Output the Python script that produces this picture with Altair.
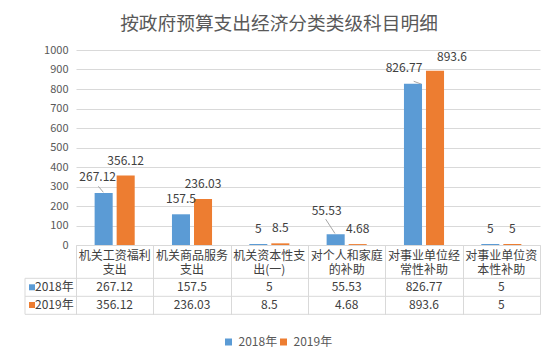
import altair as alt
import pandas as pd

# ---- data ----
categories = ["机关工资福利支出", "机关商品服务支出", "机关资本性支出(一)",
              "对个人和家庭的补助", "对事业单位经常性补助", "对事业单位资本性补助"]
series = ["2018年", "2019年"]
values_2018 = [267.12, 157.5, 5, 55.53, 826.77, 5]
values_2019 = [356.12, 236.03, 8.5, 4.68, 893.6, 5]
y_ticks = [0, 100, 200, 300, 400, 500, 600, 700, 800, 900, 1000]
title_text = "按政府预算支出经济分类类级科目明细"

rows = []
for c, a, b in zip(categories, values_2018, values_2019):
    rows.append({"cat": c, "year": series[0], "value": a})
    rows.append({"cat": c, "year": series[1], "value": b})
df = pd.DataFrame(rows)
df["label"] = df["value"].map(lambda v: f"{v:g}")
cat_df = pd.DataFrame({"cat": categories})
year_df = pd.DataFrame({"year": series})
one = pd.DataFrame({"k": [0]})

# ---- style ----
FONT = "Noto Sans CJK SC"
GRID = "#d9d9d9"
TXT = "#404040"
AX = "#595959"
LEAD = "#a6a6a6"
colors = ["#5B9BD5", "#ED7D31"]
W, H = 464, 195

x_enc = alt.X("cat:N", sort=categories,
              scale=alt.Scale(domain=categories, paddingInner=0, paddingOuter=0),
              axis=alt.Axis(title=None, labels=False, domain=True, domainColor=GRID,
                            ticks=True, tickBand="extent", tickSize=69.3,
                            tickColor=GRID, grid=False))
xo_enc = alt.XOffset("year:N", scale=alt.Scale(domain=series, paddingInner=0.18,
                                               paddingOuter=0.846))
y_enc = alt.Y("value:Q", scale=alt.Scale(domain=[0, 1000], nice=False),
              axis=alt.Axis(title=None, values=y_ticks, format="d", grid=True,
                            gridColor=GRID, domain=False, ticks=False, labelPadding=8,
                            labelFontSize=11, labelColor=AX))
color_enc = alt.Color("year:N", scale=alt.Scale(domain=series, range=colors),
                      legend=alt.Legend(title=None, orient="none", direction="horizontal",
                                        legendX=146.5, legendY=286,
                                        symbolType="square", symbolSize=49,
                                        symbolStrokeWidth=0,
                                        labelFontSize=12, labelColor=AX,
                                        labelOffset=4, columnPadding=0))

base = alt.Chart(df)
bars = base.mark_bar().encode(x=x_enc, xOffset=xo_enc, y=y_enc, color=color_enc)

# label placement tweaks (cat index, series index, dx, dy, leader-line path or None)
special = [(0, 0, -6, -16, "M -5.3 -6.6 L -0.3 -0.6"),
           (3, 0, -9, -23, "M -10 -15 L -0.7 -0.7"),
           (4, 0, -9, -15.5, "M 0.7 -2.5 L 8 0.2"),
           (4, 1, 17, -13.4, None)]
def sel(ci, si):
    return f"(datum.cat == '{categories[ci]}' && datum.year == '{series[si]}')"
not_special = "!(" + " || ".join(sel(s[0], s[1]) for s in special) + ")"

labels = [base.transform_filter(not_special).mark_text(
    baseline="middle", dy=-15, fontSize=12, color=TXT).encode(
    x=x_enc, xOffset=xo_enc, y=y_enc, text="label:N")]
for ci, si, dx, dy, lead in special:
    labels.append(base.transform_filter(sel(ci, si)).mark_text(
        baseline="middle", dx=dx, dy=dy, fontSize=12, color=TXT).encode(
        x=x_enc, xOffset=xo_enc, y=y_enc, text="label:N"))
    if lead:
        labels.append(base.transform_filter(sel(ci, si)).mark_point(
            shape=lead, size=4, filled=False, opacity=1, strokeWidth=1,
            color=LEAD).encode(x=x_enc, xOffset=xo_enc, y=y_enc))

# ---- data table under the plot ----
# category names wrapped onto two lines (first line centred at y, second one line below)
header = alt.Chart(cat_df).transform_calculate(
    h="substring(datum.cat, 0, 6) + '\\n' + substring(datum.cat, 6)"
).mark_text(fontSize=12, color=TXT, baseline="middle", lineBreak="\n",
            lineHeight=14.3).encode(x=x_enc, y=alt.value(205.7), text="h:N")

table = []
row_ys = [237.3, 255.0]
for yr, ry in zip(series, row_ys):
    table.append(base.transform_filter(f"datum.year == '{yr}'").mark_text(
        fontSize=12, color=TXT, baseline="middle").encode(
        x=x_enc, y=alt.value(ry), text="label:N"))
    table.append(alt.Chart(year_df).transform_filter(f"datum.year == '{yr}'").mark_text(
        fontSize=12, color=TXT, baseline="middle", align="left").encode(
        x=alt.value(-41), y=alt.value(ry), text="year:N"))
    table.append(alt.Chart(year_df).transform_filter(f"datum.year == '{yr}'").mark_square(
        size=36, opacity=1).encode(x=alt.value(-44), y=alt.value(ry), color=color_enc))

lines = []
for ly in [228.3, 246.3, 264.3]:
    lines.append(alt.Chart(one).mark_rule(color=GRID, strokeWidth=1).encode(
        x=alt.value(-51), x2=alt.value(W), y=alt.value(ly)))
lines.append(alt.Chart(one).mark_rule(color=GRID, strokeWidth=1).encode(
    x=alt.value(-51), y=alt.value(228.3), y2=alt.value(264.3)))

chart = alt.layer(bars, *labels, header, *table, *lines).properties(
    width=W, height=H,
    padding={"left": 16, "top": 6, "right": 5, "bottom": 5},
    title=alt.TitleParams(title_text, fontSize=18.7, fontWeight="normal", color=AX,
                          anchor="middle", frame="group", dx=-29, offset=10.5, font=FONT),
).configure(font=FONT).configure_view(stroke=None)

chart.save("out.html", embed_options={"renderer": "svg", "actions": False})
